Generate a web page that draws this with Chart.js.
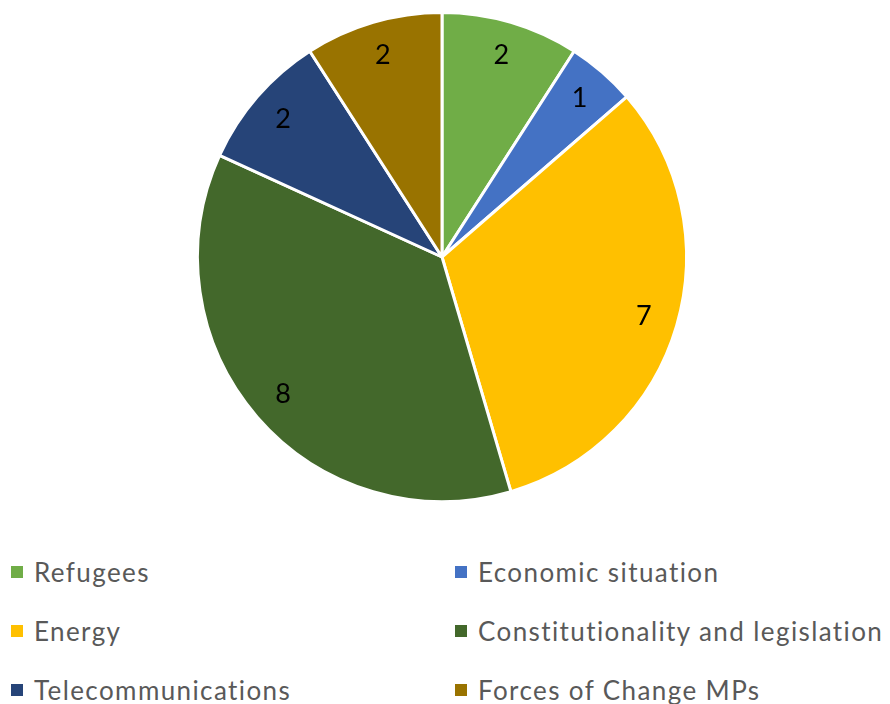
<!DOCTYPE html>
<html>
<head>
<meta charset="utf-8">
<script src="https://cdn.jsdelivr.net/npm/chart.js@4"></script>
<style>
  body { margin: 0; background: #fff; width: 890px; height: 704px; overflow: hidden; }
  #wrap { position: relative; width: 890px; height: 515px; }
  #legend {
    display: grid;
    grid-template-columns: 444px 446px;
    row-gap: 0;
    margin-top: 27px;
    font-family: Lato, sans-serif;
    font-size: 26px;
    letter-spacing: 1.4px;
    color: #595959;
  }
  .item { display: flex; align-items: center; height: 59px; white-space: nowrap; }
  .box { width: 12px; height: 12px; margin-left: 11px; margin-right: 11px; }
</style>
</head>
<body>
<div id="wrap"><canvas id="pie"></canvas></div>
<div id="legend"></div>
<script>
const topics = ['Refugees', 'Economic situation', 'Energy', 'Constitutionality and legislation', 'Telecommunications', 'Forces of Change MPs'];
const counts = [2, 1, 7, 8, 2, 2];
const colors = ['#70AD47', '#4472C4', '#FFC000', '#43682B', '#264478', '#997300'];

// numbers drawn inside each slice, near the rim
const sliceLabels = {
  id: 'sliceLabels',
  afterDatasetsDraw(chart) {
    const ctx = chart.ctx;
    const meta = chart.getDatasetMeta(0);
    ctx.save();
    ctx.font = '27px Lato, sans-serif';
    ctx.fillStyle = '#000';
    ctx.textAlign = 'center';
    ctx.textBaseline = 'middle';
    meta.data.forEach((arc, i) => {
      const mid = (arc.startAngle + arc.endAngle) / 2;
      const r = arc.outerRadius * 0.86;
      ctx.fillText(String(counts[i]), arc.x + Math.cos(mid) * r, arc.y + Math.sin(mid) * r);
    });
    ctx.restore();
  }
};

new Chart(document.getElementById('pie'), {
  type: 'pie',
  data: {
    labels: topics,
    datasets: [{
      data: counts,
      backgroundColor: colors,
      borderColor: '#fff',
      borderWidth: 3,
      hoverOffset: 0
    }]
  },
  options: {
    responsive: true,
    maintainAspectRatio: false,
    animation: false,
    layout: { padding: { top: 11, bottom: 12, left: 0, right: 6 } },
    plugins: {
      legend: { display: false },
      tooltip: { enabled: false }
    }
  },
  plugins: [sliceLabels]
});

// two-column legend below the pie
const legend = document.getElementById('legend');
topics.forEach((t, i) => {
  const item = document.createElement('div');
  item.className = 'item';
  const box = document.createElement('span');
  box.className = 'box';
  box.style.background = colors[i];
  const txt = document.createElement('span');
  txt.textContent = t;
  item.appendChild(box);
  item.appendChild(txt);
  legend.appendChild(item);
});
</script>
</body>
</html>
